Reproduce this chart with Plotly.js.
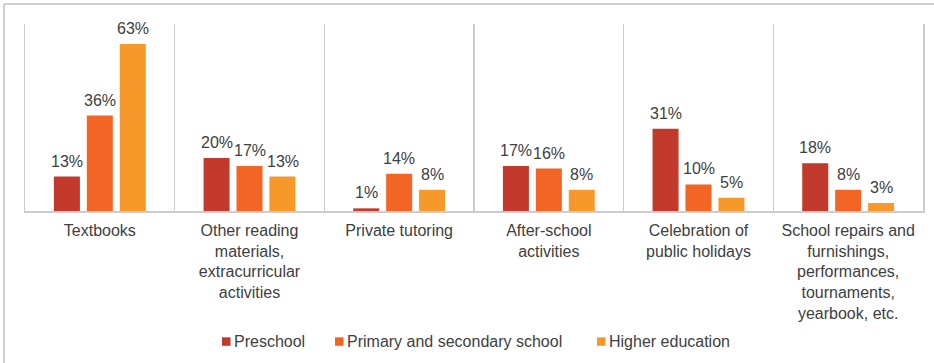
<!DOCTYPE html>
<html>
<head>
<meta charset="utf-8">
<script src="https://cdn.plot.ly/plotly-3.0.1.min.js"></script>
<style>html,body{margin:0;padding:0;background:#fff;}#chart{width:934px;height:363px;}</style>
</head>
<body>
<div id="chart"></div>
<script>
const categories = [
  "Textbooks",
  "Other reading<br>materials,<br>extracurricular<br>activities",
  "Private tutoring",
  "After-school<br>activities",
  "Celebration of<br>public holidays",
  "School repairs and<br>furnishings,<br>performances,<br>tournaments,<br>yearbook, etc."
];
const seriesNames = ["Preschool", "Primary and secondary school", "Higher education"];
const preschool = [13, 20, 1, 17, 31, 18];
const primarySecondary = [36, 17, 14, 16, 10, 8];
const higherEducation = [63, 13, 8, 8, 5, 3];
const seriesValues = [preschool, primarySecondary, higherEducation];
const colors = ["#C23A2B", "#F26524", "#F7982A"];

const W = 934, H = 363;
const M = {l: 25, r: 11, t: 24, b: 152};
const pw = W - M.l - M.r, ph = H - M.t - M.b;
const px = x => (x - M.l) / pw;
const py = y => (H - M.b - y) / ph;
const FONT = "Liberation Sans, Arial, sans-serif";
const TXT = "#404040";
const BAR_SLOT = 33; // px between bar centres within a group

const traces = seriesValues.map((vals, i) => ({
  type: "bar",
  name: seriesNames[i],
  x: categories,
  y: vals,
  marker: {color: colors[i]},
  showlegend: false,
  hoverinfo: "skip"
}));

const shapes = [
  {type: "line", xref: "paper", yref: "paper", x0: px(4), x1: px(934), y0: py(4), y1: py(4), line: {color: "#d0d0d0", width: 2}},
  {type: "line", xref: "paper", yref: "paper", x0: px(4), x1: px(4), y0: py(4), y1: py(363), line: {color: "#d0d0d0", width: 2}}
];
const annotations = [];

// value labels above each bar, placed through the axes' own scales
seriesValues.forEach((vals, i) => {
  vals.forEach((v, j) => {
    annotations.push({
      xref: "x", yref: "y", x: categories[j], y: v,
      xshift: (i - 1) * BAR_SLOT, yshift: 6,
      xanchor: "center", yanchor: "bottom",
      text: v + "%", showarrow: false, borderpad: 0,
      font: {family: FONT, size: 16, color: TXT}
    });
  });
});

// legend matching reference layout
const legendX = [222, 335, 597];
seriesNames.forEach((n, i) => {
  const x0 = legendX[i];
  shapes.push({type: "rect", xref: "paper", yref: "paper", x0: px(x0), x1: px(x0 + 8.5), y0: py(337.3), y1: py(345.8), fillcolor: colors[i], line: {width: 0}});
  annotations.push({xref: "paper", yref: "paper", x: px(x0 + 11), y: py(341.5), xanchor: "left", yanchor: "middle", text: n, showarrow: false, font: {family: FONT, size: 16, color: TXT}, borderpad: 0});
});

const layout = {
  width: W, height: H,
  margin: M,
  paper_bgcolor: "#fff", plot_bgcolor: "#fff",
  barmode: "group",
  bargap: 0.34,
  bargroupgap: 0.21,
  font: {family: FONT, size: 16, color: TXT},
  xaxis: {
    type: "category",
    tickson: "boundaries",
    showgrid: true, gridcolor: "#cccccc", gridwidth: 1.5,
    showline: true, linecolor: "#cccccc", linewidth: 1.5,
    ticks: "", tickfont: {family: FONT, size: 16, color: TXT},
    ticklabelstandoff: 4,
    tickangle: 0,
    fixedrange: true
  },
  yaxis: {
    range: [0, 70.5],
    showgrid: false, zeroline: false,
    showticklabels: false, ticks: "",
    showline: true, mirror: true, linecolor: "#cccccc", linewidth: 1.5,
    fixedrange: true
  },
  shapes: shapes,
  annotations: annotations,
  showlegend: false
};

Plotly.newPlot("chart", traces, layout, {displayModeBar: false, staticPlot: true});
</script>
</body>
</html>
